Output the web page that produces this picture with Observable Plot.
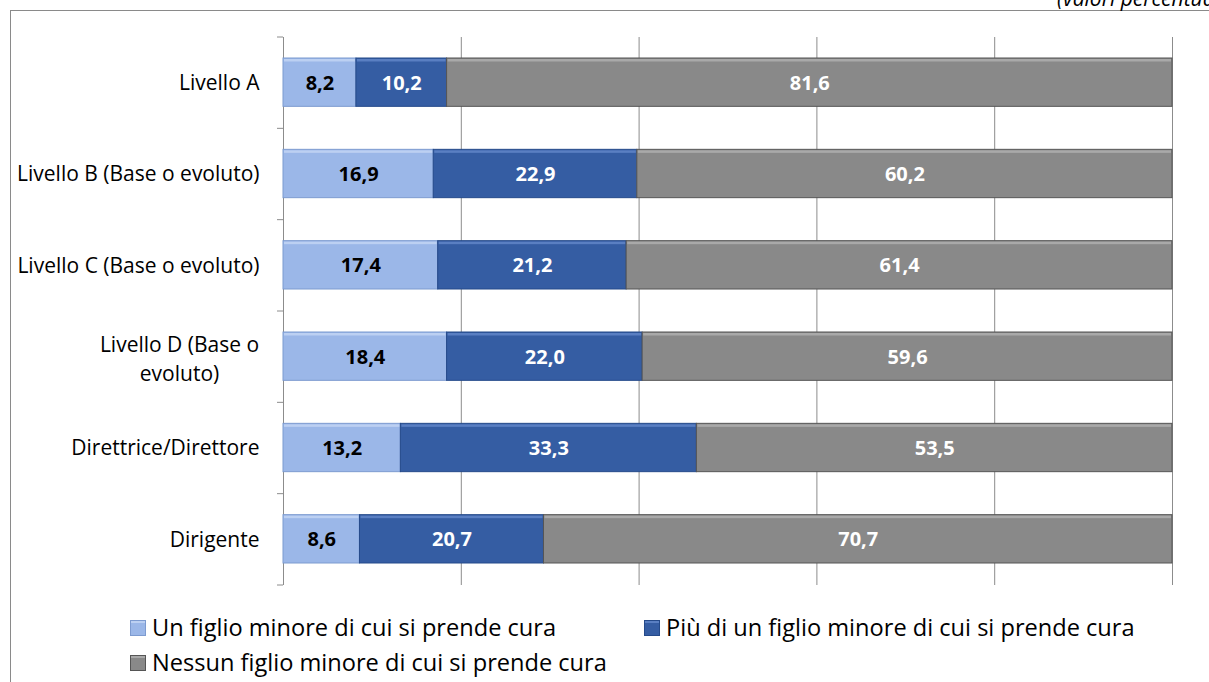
<!DOCTYPE html>
<html>
<head>
<meta charset="utf-8">
<script src="https://cdn.jsdelivr.net/npm/d3@7"></script>
<script src="https://cdn.jsdelivr.net/npm/@observablehq/plot@0.6"></script>
<style>
  body { margin: 0; background: #fff; }
  #wrap { position: relative; width: 1209px; height: 682px; overflow: hidden; font-family: "Open Sans", Lato, sans-serif; color: #000; }
  #frame { position: absolute; left: 10px; top: 10px; width: 1400px; height: 900px; border: 1px solid #8a8a8a; }
  #note { position: absolute; left: 1057px; top: -12px; font-style: italic; font-size: 21px; line-height: 1; white-space: nowrap; }
  #chart { position: absolute; left: 0; top: 0; }
  .leg { position: absolute; display: flex; align-items: center; font-size: 23.6px; line-height: 31px; white-space: nowrap; }
  .sw { width: 14px; height: 14px; margin-right: 6px; border: 1px solid; box-sizing: content-box; }
</style>
</head>
<body>
<div id="wrap">
  <div id="frame"></div>
  <div id="note">(valori percentuali)</div>
  <div id="chart"></div>
  <div id="legend"></div>
</div>
<script>
// Categories (top to bottom) and the three series, in percent
const categories = [
  "Livello A",
  "Livello B (Base o evoluto)",
  "Livello C (Base o evoluto)",
  "Livello D (Base o evoluto)",
  "Direttrice/Direttore",
  "Dirigente"
];
const seriesNames = [
  "Un figlio minore di cui si prende cura",
  "Più di un figlio minore di cui si prende cura",
  "Nessun figlio minore di cui si prende cura"
];
const unFiglio     = [8.2, 16.9, 17.4, 18.4, 13.2, 8.6];
const piuFigli     = [10.2, 22.9, 21.2, 22.0, 33.3, 20.7];
const nessunFiglio = [81.6, 60.2, 61.4, 59.6, 53.5, 70.7];
const gridTicks = [20, 40, 60, 80, 100];

// Colours per series: fill, edge, top highlight, label
const fills      = ["#9bb7e8", "#355da3", "#898989"];
const edges      = ["#7d9bd0", "#254a8a", "#555555"];
const highlights = ["#bcd0f2", "#5a7fc2", "#a9a9a9"];
const labelInk   = ["#000000", "#ffffff", "#ffffff"];

// The long label for level D wraps onto two centred lines
const wrapped = "Livello D (Base o evoluto)";
const wrappedText = "Livello D (Base o\nevoluto)";

const valuesBySeries = [unFiglio, piuFigli, nessunFiglio];
const rows = categories.flatMap((c, i) =>
  seriesNames.map((s, k) => ({category: c, series: s, k, value: valuesBySeries[k][i]}))
);

const fmt = v => v.toFixed(1).replace(".", ",");

const W = 1209, H = 600, mTop = 37, mBottom = 15, mLeft = 283, mRight = 37;
const step = (H - mTop - mBottom) / categories.length;
const insetTop = 21, insetBottom = 22;
const font = "'Open Sans', Lato, sans-serif";

const chart = Plot.plot({
  width: W,
  height: H,
  marginTop: mTop,
  marginBottom: mBottom,
  marginLeft: mLeft,
  marginRight: mRight,
  style: {fontFamily: font, fontSize: "21px", background: "transparent", overflow: "visible"},
  x: {domain: [0, 100], axis: null},
  y: {domain: categories, padding: 0, round: false, axis: null},
  marks: [
    // vertical gridlines
    Plot.ruleX(gridTicks, {stroke: "#8c8c8c", strokeWidth: 1, strokeOpacity: 1}),
    // category axis line
    Plot.ruleX([0], {stroke: "#8c8c8c", strokeWidth: 1, strokeOpacity: 1}),
    // small ticks between categories, to the left of the axis
    (index, scales, values, dims) => {
      const g = d3.create("svg:g").attr("stroke", "#8c8c8c").attr("stroke-width", 1);
      const x0 = dims.marginLeft;
      const ys = categories.map(c => scales.y(c));
      ys.push(dims.height - dims.marginBottom);
      for (const y of ys) {
        g.append("line").attr("x1", x0 - 6).attr("x2", x0).attr("y1", y).attr("y2", y);
      }
      return g.node();
    },
    // stacked bars
    Plot.barX(rows, Plot.stackX({
      x: "value", y: "category", z: "series",
      fill: d => fills[d.k], stroke: d => edges[d.k], strokeWidth: 1,
      insetTop, insetBottom
    })),
    // light bevel along the top of each segment
    Plot.barX(rows, Plot.stackX({
      x: "value", y: "category", z: "series",
      fill: d => highlights[d.k],
      insetTop: insetTop + 1, insetBottom: step - insetTop - 3.5,
      insetLeft: 1, insetRight: 1
    })),
    // value labels
    Plot.text(rows, Plot.stackX({
      x: "value", y: "category", z: "series",
      text: d => fmt(d.value),
      fill: d => labelInk[d.k],
      fontWeight: "bold", fontSize: 20, dy: 0
    })),
    // category labels
    Plot.axisY({
      tickSize: 0, tickPadding: 24, fontSize: 21, label: null,
      tickFormat: d => (d === wrapped ? "" : d)
    }),
    Plot.text([wrapped], {
      y: d => d, x: 0, text: () => wrappedText,
      textAnchor: "middle", dx: -104, lineHeight: 1.4, fontSize: 21, fill: "#000"
    })
  ]
});
document.getElementById("chart").appendChild(chart);

// Legend
const legendPos = [[130, 612], [644, 612], [130, 647]];
const legend = document.getElementById("legend");
seriesNames.forEach((s, k) => {
  const item = document.createElement("div");
  item.className = "leg";
  item.style.left = legendPos[k][0] + "px";
  item.style.top = legendPos[k][1] + "px";
  const sw = document.createElement("span");
  sw.className = "sw";
  sw.style.background = `linear-gradient(${highlights[k]} 0 2px, ${fills[k]} 2px)`;
  sw.style.borderColor = edges[k];
  const label = document.createElement("span");
  label.textContent = s;
  item.appendChild(sw);
  item.appendChild(label);
  legend.appendChild(item);
});
</script>
</body>
</html>
